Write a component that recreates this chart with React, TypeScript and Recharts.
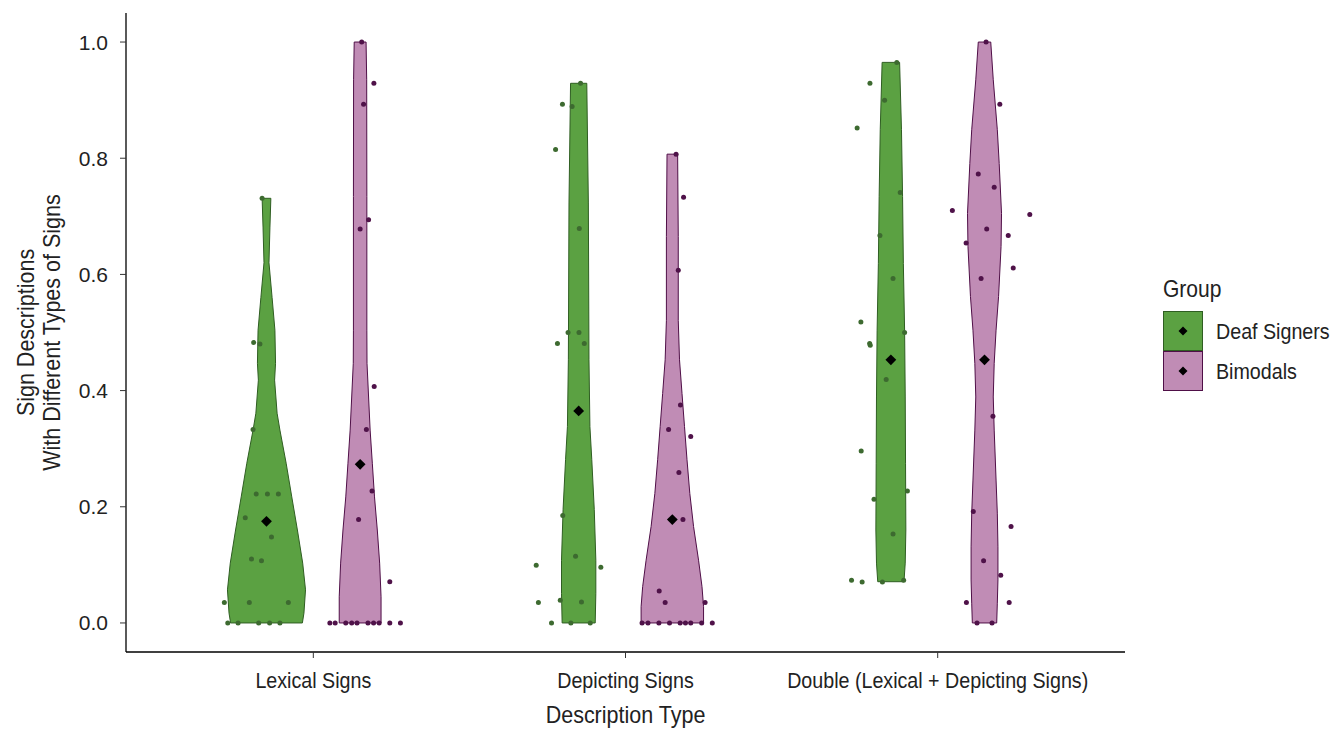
import React from 'react';
import { ScatterChart, Scatter, XAxis, YAxis, Legend } from 'recharts';

// ---------- data ----------
const categories = ['Lexical Signs', 'Depicting Signs', 'Double (Lexical + Depicting Signs)'];
const groups = ['Deaf Signers', 'Bimodals'];
const xTicks = [1, 2, 3];
const yTicks = [0, 0.2, 0.4, 0.6, 0.8, 1.0];

// violin outlines: [value, half width in category units]
const lexicalDeafViolin = [
  [0, 0.115], [0.017, 0.120], [0.057, 0.125], [0.103, 0.116], [0.160, 0.099], [0.217, 0.081],
  [0.275, 0.063], [0.332, 0.043], [0.361, 0.034], [0.418, 0.026], [0.447, 0.029], [0.504, 0.027],
  [0.56, 0.018], [0.62, 0.008], [0.68, 0.011], [0.731, 0.014],
];
const lexicalBimodalViolin = [
  [0, 0.067], [0.045, 0.067], [0.103, 0.0625], [0.160, 0.055], [0.217, 0.046], [0.275, 0.039],
  [0.332, 0.032], [0.447, 0.022], [0.504, 0.0215], [0.734, 0.0215], [0.935, 0.021], [1.0, 0.019],
];
const depictingDeafViolin = [
  [0, 0.053], [0.051, 0.055], [0.108, 0.055], [0.195, 0.050], [0.281, 0.042], [0.338, 0.036],
  [0.453, 0.033], [0.723, 0.031], [0.929, 0.026],
];
const depictingBimodalViolin = [
  [0, 0.100], [0.028, 0.100], [0.0625, 0.095], [0.108, 0.084], [0.166, 0.068], [0.223, 0.056],
  [0.281, 0.047], [0.338, 0.039], [0.395, 0.031], [0.453, 0.023], [0.521, 0.019], [0.665, 0.019],
  [0.807, 0.017],
];
const doubleDeafViolin = [
  [0.071, 0.042], [0.103, 0.046], [0.160, 0.048], [0.275, 0.047], [0.389, 0.046], [0.504, 0.044],
  [0.619, 0.040], [0.734, 0.0375], [0.849, 0.034], [0.965, 0.028],
];
const doubleBimodalViolin = [
  [0, 0.039], [0.034, 0.041], [0.074, 0.043], [0.131, 0.043], [0.189, 0.041], [0.246, 0.037],
  [0.332, 0.031], [0.389, 0.028], [0.447, 0.031], [0.504, 0.037], [0.562, 0.045], [0.648, 0.053],
  [0.705, 0.0545], [0.791, 0.047], [0.849, 0.041], [0.935, 0.028], [1.0, 0.020],
];

// individual observations: [value, horizontal jitter]
const lexicalDeafPoints = [
  [0.731, -0.014], [0.483, -0.041], [0.480, -0.021], [0.333, -0.043], [0.222, -0.033], [0.222, 0.003],
  [0.222, 0.038], [0.181, -0.068], [0.148, 0.016], [0.110, -0.048], [0.107, -0.016], [0.035, -0.135],
  [0.035, -0.055], [0.035, 0.070], [0, -0.124], [0, -0.091], [0, -0.025], [0, 0.010], [0, 0.043],
];
const lexicalBimodalPoints = [
  [1.0, 0.005], [0.929, 0.044], [0.893, 0.011], [0.694, 0.027], [0.678, 0.0], [0.407, 0.045],
  [0.333, 0.020], [0.227, 0.038], [0.178, -0.005], [0.071, 0.095], [0, -0.097], [0, -0.080],
  [0, -0.046], [0, -0.027], [0, -0.010], [0, 0.025], [0, 0.043], [0, 0.061], [0, 0.095], [0, 0.129],
];
const depictingDeafPoints = [
  [0.929, 0.006], [0.893, -0.052], [0.889, -0.021], [0.815, -0.074], [0.679, 0.002], [0.5, -0.034],
  [0.5, 0.001], [0.481, -0.068], [0.481, 0.018], [0.185, -0.051], [0.115, -0.010], [0.0993, -0.136],
  [0.0959, 0.071], [0.035, -0.129], [0.039, -0.059], [0.036, 0.009], [0, -0.087], [0, -0.025], [0, 0.037],
];
const depictingBimodalPoints = [
  [0.807, 0.012], [0.733, 0.036], [0.607, 0.019], [0.375, 0.026], [0.333, -0.012], [0.321, 0.059],
  [0.259, 0.021], [0.178, 0.034], [0.055, -0.042], [0.035, -0.023], [0.035, 0.105], [0, -0.097],
  [0, -0.078], [0, -0.043], [0, -0.009], [0, 0.025], [0, 0.042], [0, 0.059], [0, 0.094], [0, 0.128],
];
const doubleDeafPoints = [
  [0.965, 0.019], [0.929, -0.067], [0.900, -0.020], [0.852, -0.108], [0.741, 0.030], [0.667, -0.035],
  [0.593, 0.007], [0.518, -0.096], [0.500, 0.044], [0.481, -0.068], [0.478, -0.066], [0.419, -0.015],
  [0.296, -0.095], [0.227, 0.053], [0.213, -0.054], [0.153, 0.007], [0.0735, -0.126], [0.0706, -0.092],
  [0.0706, -0.027], [0.0735, 0.041],
];
const doubleBimodalPoints = [
  [1.0, 0.005], [0.893, 0.049], [0.773, -0.020], [0.750, 0.031], [0.710, -0.103], [0.703, 0.145],
  [0.678, 0.007], [0.667, 0.076], [0.654, -0.059], [0.611, 0.092], [0.593, -0.011], [0.356, 0.027],
  [0.192, -0.036], [0.166, 0.085], [0.107, -0.003], [0.082, 0.052], [0.035, -0.058], [0.035, 0.079],
  [0, -0.024], [0, 0.024],
];

// group means per category
const deafMeans = [0.175, 0.365, 0.453];
const bimodalMeans = [0.273, 0.178, 0.453];

// ---------- styling ----------
const FILLS = ['#5ba142', '#c08cb5'];
const OUTLINES = ['#2f5e22', '#4f0f47'];
const DOTS = ['#3d6a30', '#4f1249'];
const DODGE = [-0.15, 0.15];
const SANS = '"Liberation Sans", Arial, Helvetica, sans-serif';
const CONDENSE = 0.915; // horizontal squeeze to imitate a condensed face
const TEXT = '#222';

const violinSets = [
  [lexicalDeafViolin, depictingDeafViolin, doubleDeafViolin],
  [lexicalBimodalViolin, depictingBimodalViolin, doubleBimodalViolin],
];
const pointSets = [
  [lexicalDeafPoints, depictingDeafPoints, doubleDeafPoints],
  [lexicalBimodalPoints, depictingBimodalPoints, doubleBimodalPoints],
];
const meanSets = [deafMeans, bimodalMeans];

const violinPolygon = (profile: number[][], center: number) => {
  const right = profile.map(([v, w]) => ({ x: center + w, y: v }));
  const left = [...profile].reverse().map(([v, w]) => ({ x: center - w, y: v }));
  const pts = [...right, ...left];
  pts.push(pts[0]);
  return pts;
};

const CondText = ({ x, y, rotate = 0, anchor = 'start', size, children }: any) => (
  <text
    transform={`translate(${x},${y}) rotate(${rotate}) scale(${CONDENSE},1)`}
    textAnchor={anchor}
    fontFamily={SANS}
    fontSize={size}
    fill={TEXT}
  >
    {children}
  </text>
);

const Hidden = () => <g />;

const makeDot = (color: string) => (p: any) => (
  <circle cx={p.cx} cy={p.cy} r={2.5} fill={color} />
);

const Diamond = (p: any) => {
  const s = 5.4;
  return (
    <polygon
      points={`${p.cx},${p.cy - s} ${p.cx + s},${p.cy} ${p.cx},${p.cy + s} ${p.cx - s},${p.cy}`}
      fill="#000"
    />
  );
};

const XTick = (props: any) => {
  const { x, y, payload } = props;
  return (
    <CondText x={x} y={y + 15.3} anchor="middle" size={21.5}>
      {categories[payload.value - 1] ?? ''}
    </CondText>
  );
};

const renderYTitle = (props: any) => {
  const vb = props.viewBox || { y: 13, height: 639 };
  const cy = vb.y + vb.height / 2;
  return (
    <g>
      <CondText x={33.5} y={cy} rotate={-90} anchor="middle" size={23.5}>Sign Descriptions</CondText>
      <CondText x={59.5} y={cy} rotate={-90} anchor="middle" size={23.5}>With Different Types of Signs</CondText>
    </g>
  );
};

const renderXTitle = (props: any) => {
  const vb = props.viewBox || { x: 126, width: 999 };
  const cx = vb.x + vb.width / 2;
  return (
    <CondText x={cx} y={723} anchor="middle" size={23.5}>Description Type</CondText>
  );
};

const LegendContent = () => (
  <svg width={181} height={130}>
    <CondText x={13} y={27} size={23}>Group</CondText>
    {groups.map((g, i) => {
      const top = 41 + i * 40;
      const cy = top + 20;
      return (
        <g key={g}>
          <rect x={13.5} y={top + 0.5} width={39} height={39} fill={FILLS[i]} stroke={OUTLINES[i]} strokeWidth={1} />
          <polygon points={`33,${cy - 4.5} 37.5,${cy} 33,${cy + 4.5} 28.5,${cy}`} fill="#000" />
          <CondText x={66} y={cy + 7.7} size={21.5}>{g}</CondText>
        </g>
      );
    })}
  </svg>
);

export default function App() {
  const series: React.ReactNode[] = [];

  // violins
  [0, 1].forEach((g) => {
    violinSets[g].forEach((profile, c) => {
      series.push(
        <Scatter
          key={`v-${g}-${c}`}
          data={violinPolygon(profile, xTicks[c] + DODGE[g])}
          shape={Hidden}
          line={{ fill: FILLS[g], stroke: OUTLINES[g], strokeWidth: 1 }}
          lineJointType="linear"
          isAnimationActive={false}
          legendType="none"
        />
      );
    });
  });

  // points
  [0, 1].forEach((g) => {
    pointSets[g].forEach((pts, c) => {
      series.push(
        <Scatter
          key={`p-${g}-${c}`}
          data={pts.map(([v, j]) => ({ x: xTicks[c] + DODGE[g] + j, y: v }))}
          shape={makeDot(DOTS[g])}
          isAnimationActive={false}
          legendType="none"
        />
      );
    });
  });

  // means
  [0, 1].forEach((g) => {
    series.push(
      <Scatter
        key={`m-${g}`}
        data={meanSets[g].map((v, c) => ({ x: xTicks[c] + DODGE[g], y: v }))}
        shape={Diamond}
        isAnimationActive={false}
        legendType="none"
      />
    );
  });

  return (
    <div style={{ position: 'absolute', left: 0, top: 0, background: '#fff' }}>
      <ScatterChart width={1331} height={729} margin={{ top: 13, right: 206, bottom: 37, left: 66 }}>
        <XAxis
          type="number"
          dataKey="x"
          domain={[0.4, 3.6]}
          allowDataOverflow
          ticks={xTicks}
          height={40}
          tickSize={6}
          tickMargin={15}
          axisLine={{ stroke: '#000', strokeWidth: 1.3 }}
          tickLine={{ stroke: '#333', strokeWidth: 1 }}
          tick={<XTick />}
          label={renderXTitle}
          interval={0}
        />
        <YAxis
          type="number"
          dataKey="y"
          domain={[-0.05, 1.05]}
          allowDataOverflow
          ticks={yTicks}
          tickFormatter={(v: number) => v.toFixed(1)}
          width={60}
          tickSize={6}
          tickMargin={12}
          axisLine={{ stroke: '#000', strokeWidth: 1.3 }}
          tickLine={{ stroke: '#333', strokeWidth: 1 }}
          tick={{ fontSize: 21, fontFamily: SANS, fill: TEXT }}
          label={renderYTitle}
          interval={0}
        />
        <Legend
          content={LegendContent}
          layout="horizontal"
          verticalAlign="middle"
          align="center"
          wrapperStyle={{ left: 1150, top: 270, width: 181, height: 130 }}
        />
        {series}
      </ScatterChart>
    </div>
  );
}
